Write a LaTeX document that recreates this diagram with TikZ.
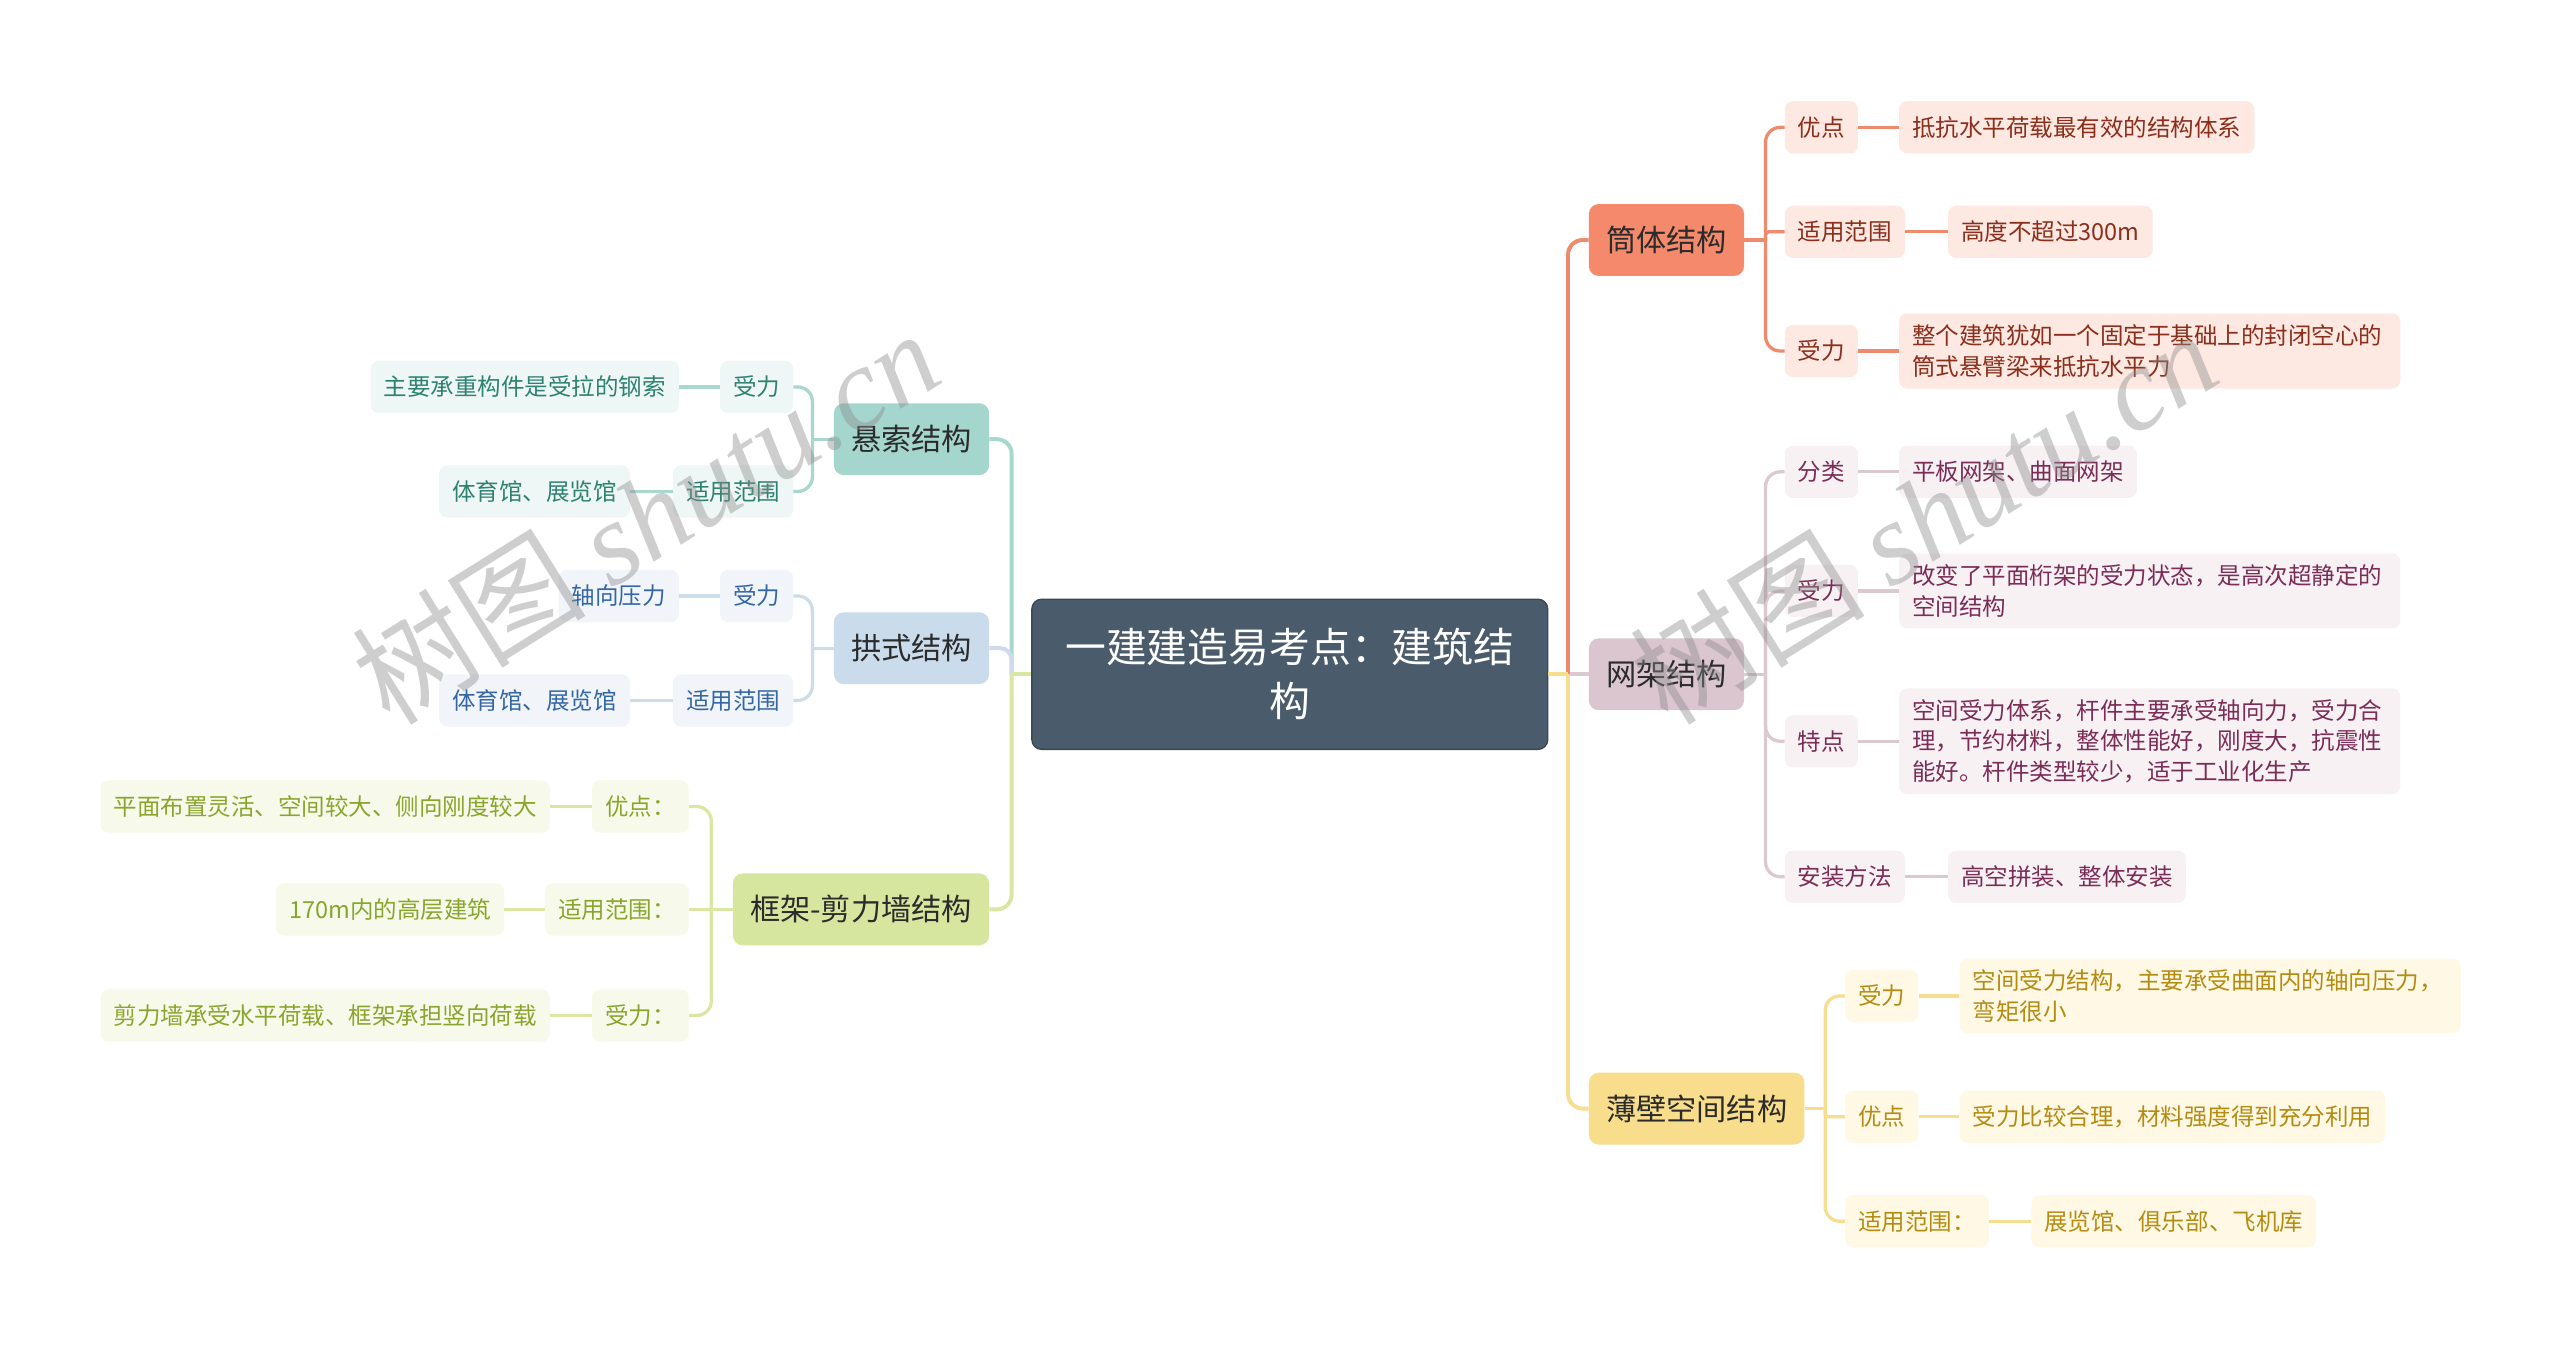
\documentclass[tikz,border=0pt]{standalone}
\usepackage{fontspec}
\setmainfont{Noto Sans CJK SC}
\newfontfamily\wmlatin{Liberation Serif}
\usetikzlibrary{calc}

\definecolor{rootFill}{HTML}{4A5B6B}
\definecolor{rootLine}{HTML}{3A4754}
\definecolor{darkText}{HTML}{2B2B2B}
% orange
\definecolor{oFill}{HTML}{F5896B}\definecolor{oLine}{HTML}{F08A6C}
\definecolor{oLeaf}{HTML}{FDE8E2}\definecolor{oText}{HTML}{8B2F1C}
% mauve
\definecolor{mFill}{HTML}{DBC6D0}\definecolor{mLine}{HTML}{DCC8D1}
\definecolor{mLeaf}{HTML}{F7F1F4}\definecolor{mText}{HTML}{7B2D57}
% yellow
\definecolor{yFill}{HTML}{F8DD8C}\definecolor{yLine}{HTML}{F6DD90}
\definecolor{yLeaf}{HTML}{FEF8E4}\definecolor{yText}{HTML}{B58C12}
% teal
\definecolor{tFill}{HTML}{A5D6CE}\definecolor{tLine}{HTML}{A8D7CF}
\definecolor{tLeaf}{HTML}{EEF7F5}\definecolor{tText}{HTML}{2E8272}
% blue
\definecolor{bFill}{HTML}{CADBEC}\definecolor{bLine}{HTML}{CCDCEB}
\definecolor{bLeaf}{HTML}{F1F5FA}\definecolor{bText}{HTML}{3567A6}
% green
\definecolor{gFill}{HTML}{D7E69F}\definecolor{gLine}{HTML}{D9E7A2}
\definecolor{gLeaf}{HTML}{F7FAEA}\definecolor{gText}{HTML}{8AA52E}

\begin{document}
\begin{tikzpicture}[x=1pt,y=-1pt,
  rootbox/.style={fill=rootFill, draw=rootLine, line width=0.8pt, rounded corners=6pt,
    minimum width=316pt, minimum height=92pt, inner sep=0pt, text width=290pt, align=center,
    text=white, font=\fontsize{25pt}{33pt}\selectfont},
  lvlone/.style={rounded corners=6pt, inner xsep=10.5pt, inner ysep=0pt, minimum height=44pt,
    text=darkText, font=\fontsize{18.5pt}{22pt}\selectfont},
  leafbox/.style={rounded corners=5pt, inner xsep=8pt, inner ysep=0pt, minimum height=32pt,
    font=\fontsize{14.4pt}{18.5pt}\selectfont},
  multibox/.style={leafbox, text width=291pt, align=left, inner ysep=7pt},
  topO/.style={fill=oFill}, lfO/.style={fill=oLeaf, text=oText},
  topM/.style={fill=mFill}, lfM/.style={fill=mLeaf, text=mText},
  topY/.style={fill=yFill}, lfY/.style={fill=yLeaf, text=yText},
  topT/.style={fill=tFill}, lfT/.style={fill=tLeaf, text=tText},
  topB/.style={fill=bFill}, lfB/.style={fill=bLeaf, text=bText},
  topG/.style={fill=gFill}, lfG/.style={fill=gLeaf, text=gText},
  trunkline/.style={line width=2.4pt},
  branchline/.style={line width=2pt},
  rcorn/.style={rounded corners=9pt},
  wmark/.style={text=black!45, opacity=0.42, font=\fontsize{72pt}{74pt}\selectfont, inner sep=0pt}
]
\useasboundingbox (0,0) rectangle (1568,827);
\fill[white] (0,0) rectangle (1568,827);

% ---------- root ----------
\node[rootbox] (root) at (790,413) {一建建造易考点：建筑结\\构};

% ---------- right: 筒体结构 ----------
\node[lvlone, topO, anchor=west] (tong) at (973,147) {筒体结构};
\node[leafbox, lfO, anchor=west] (tong1) at (1093,78) {优点};
\node[leafbox, lfO, anchor=west] (tong1a) at (1163,78) {抵抗水平荷载最有效的结构体系};
\node[leafbox, lfO, anchor=west] (tong2) at (1093,142) {适用范围};
\node[leafbox, lfO, anchor=west] (tong2a) at (1193,142) {高度不超过300m};
\node[leafbox, lfO, anchor=west] (tong3) at (1093,215) {受力};
\node[multibox, lfO, anchor=west] (tong3a) at (1163,215) {整个建筑犹如一个固定于基础上的封闭空心的\\筒式悬臂梁来抵抗水平力};

% ---------- right: 网架结构 ----------
\node[lvlone, topM, anchor=west] (wang) at (973,413) {网架结构};
\node[leafbox, lfM, anchor=west] (wang1) at (1093,289) {分类};
\node[leafbox, lfM, anchor=west] (wang1a) at (1163,289) {平板网架、曲面网架};
\node[leafbox, lfM, anchor=west] (wang2) at (1093,362) {受力};
\node[multibox, lfM, anchor=west] (wang2a) at (1163,362) {改变了平面桁架的受力状态，是高次超静定的\\空间结构};
\node[leafbox, lfM, anchor=west] (wang3) at (1093,454) {特点};
\node[multibox, lfM, anchor=west] (wang3a) at (1163,454) {空间受力体系，杆件主要承受轴向力，受力合\\理，节约材料，整体性能好，刚度大，抗震性\\能好。杆件类型较少，适于工业化生产};
\node[leafbox, lfM, anchor=west] (wang4) at (1093,537) {安装方法};
\node[leafbox, lfM, anchor=west] (wang4a) at (1193,537) {高空拼装、整体安装};

% ---------- right: 薄壁空间结构 ----------
\node[lvlone, topY, anchor=west] (bao) at (973,679) {薄壁空间结构};
\node[leafbox, lfY, anchor=west] (bao1) at (1130,610) {受力};
\node[multibox, lfY, anchor=west] (bao1a) at (1200,610) {空间受力结构，主要承受曲面内的轴向压力，\\弯矩很小};
\node[leafbox, lfY, anchor=west] (bao2) at (1130,684) {优点};
\node[leafbox, lfY, anchor=west] (bao2a) at (1200,684) {受力比较合理，材料强度得到充分利用};
\node[leafbox, lfY, anchor=west] (bao3) at (1130,748) {适用范围：};
\node[leafbox, lfY, anchor=west] (bao3a) at (1244,748) {展览馆、俱乐部、飞机库};

% ---------- left: 悬索结构 ----------
\node[lvlone, topT, anchor=east] (xuan) at (606,269) {悬索结构};
\node[leafbox, lfT, anchor=east] (xuan1) at (486,237) {受力};
\node[leafbox, lfT, anchor=east] (xuan1a) at (416,237) {主要承重构件是受拉的钢索};
\node[leafbox, lfT, anchor=east] (xuan2) at (486,301) {适用范围};
\node[leafbox, lfT, anchor=east] (xuan2a) at (386,301) {体育馆、展览馆};

% ---------- left: 拱式结构 ----------
\node[lvlone, topB, anchor=east] (gong) at (606,397) {拱式结构};
\node[leafbox, lfB, anchor=east] (gong1) at (486,365) {受力};
\node[leafbox, lfB, anchor=east] (gong1a) at (416,365) {轴向压力};
\node[leafbox, lfB, anchor=east] (gong2) at (486,429) {适用范围};
\node[leafbox, lfB, anchor=east] (gong2a) at (386,429) {体育馆、展览馆};

% ---------- left: 框架-剪力墙结构 ----------
\node[lvlone, topG, anchor=east] (kuang) at (606,557) {框架-剪力墙结构};
\node[leafbox, lfG, anchor=east] (kuang1) at (422,494) {优点：};
\node[leafbox, lfG, anchor=east] (kuang1a) at (337,494) {平面布置灵活、空间较大、侧向刚度较大};
\node[leafbox, lfG, anchor=east] (kuang2) at (422,557) {适用范围：};
\node[leafbox, lfG, anchor=east] (kuang2a) at (309,557) {170m内的高层建筑};
\node[leafbox, lfG, anchor=east] (kuang3) at (422,622) {受力：};
\node[leafbox, lfG, anchor=east] (kuang3a) at (337,622) {剪力墙承受水平荷载、框架承担竖向荷载};

% ---------- junction points ----------
\coordinate (jR) at ($(root.east)+(12,0)$);
\coordinate (jL) at ($(root.west)+(-12,0)$);
\coordinate (jT) at ($(tong.east)+(13,0)$);
\coordinate (jW) at ($(wang.east)+(13,0)$);
\coordinate (jB) at ($(bao.east)+(12.5,0)$);
\coordinate (jX) at ($(xuan.west)+(-13,0)$);
\coordinate (jG) at ($(gong.west)+(-13,0)$);
\coordinate (jK) at ($(kuang.west)+(-13,0)$);

% ---------- root connectors (right) ----------
\draw[trunkline, mLine] (root.east) -- (wang.west);
\draw[trunkline, oLine, rcorn] (jR) |- (tong.west);
\draw[trunkline, yLine, rcorn] (jR) |- (bao.west);
\draw[trunkline, yLine] (root.east) -- (jR);
% ---------- root connectors (left) ----------
\draw[trunkline, tLine, rcorn] (jL) |- (xuan.east);
\draw[trunkline, bLine, rounded corners=7pt] (jL) |- (gong.east);
\draw[trunkline, gLine, rcorn] (jL) |- (kuang.east);
\draw[trunkline, gLine] (root.west) -- (jL);

% ---------- 筒体 connectors ----------
\draw[branchline, oLine] (tong.east) -- (jT);
\draw[branchline, oLine, rcorn] (jT) |- (tong1.west);
\draw[branchline, oLine, rounded corners=2pt] (jT) |- (tong2.west);
\draw[branchline, oLine, rcorn] (jT) |- (tong3.west);
\draw[branchline, oLine] (tong1.east) -- (tong1a.west);
\draw[branchline, oLine] (tong2.east) -- (tong2a.west);
\draw[branchline, oLine] (tong3.east) -- (tong3a.west);

% ---------- 网架 connectors ----------
\draw[branchline, mLine] (wang.east) -- (jW);
\draw[branchline, mLine, rcorn] (jW) |- (wang1.west);
\draw[branchline, mLine, rcorn] (jW) |- (wang2.west);
\draw[branchline, mLine, rcorn] (jW) |- (wang3.west);
\draw[branchline, mLine, rcorn] (jW) |- (wang4.west);
\draw[branchline, mLine] (wang1.east) -- (wang1a.west);
\draw[branchline, mLine] (wang2.east) -- (wang2a.west);
\draw[branchline, mLine] (wang3.east) -- (wang3a.west);
\draw[branchline, mLine] (wang4.east) -- (wang4a.west);

% ---------- 薄壁 connectors ----------
\draw[branchline, yLine] (bao.east) -- (jB);
\draw[branchline, yLine, rcorn] (jB) |- (bao1.west);
\draw[branchline, yLine, rounded corners=2pt] (jB) |- (bao2.west);
\draw[branchline, yLine, rcorn] (jB) |- (bao3.west);
\draw[branchline, yLine] (bao1.east) -- (bao1a.west);
\draw[branchline, yLine] (bao2.east) -- (bao2a.west);
\draw[branchline, yLine] (bao3.east) -- (bao3a.west);

% ---------- 悬索 connectors ----------
\draw[branchline, tLine] (xuan.west) -- (jX);
\draw[branchline, tLine, rcorn] (jX) |- (xuan1.east);
\draw[branchline, tLine, rcorn] (jX) |- (xuan2.east);
\draw[branchline, tLine] (xuan1.west) -- (xuan1a.east);
\draw[branchline, tLine] (xuan2.west) -- (xuan2a.east);

% ---------- 拱式 connectors ----------
\draw[branchline, bLine] (gong.west) -- (jG);
\draw[branchline, bLine, rcorn] (jG) |- (gong1.east);
\draw[branchline, bLine, rcorn] (jG) |- (gong2.east);
\draw[branchline, bLine] (gong1.west) -- (gong1a.east);
\draw[branchline, bLine] (gong2.west) -- (gong2a.east);

% ---------- 框架 connectors ----------
\draw[branchline, gLine] (kuang.west) -- (kuang2.east);
\draw[branchline, gLine, rcorn] (jK) |- (kuang1.east);
\draw[branchline, gLine, rcorn] (jK) |- (kuang3.east);
\draw[branchline, gLine] (kuang1.west) -- (kuang1a.east);
\draw[branchline, gLine] (kuang2.west) -- (kuang2a.east);
\draw[branchline, gLine] (kuang3.west) -- (kuang3a.east);

% ---------- watermarks ----------
\node[wmark, rotate=32] (wm1) at (395,316) {树图 {\wmlatin\itshape shutu.cn}};
\node[wmark, rotate=32] (wm2) at (1178,316) {树图 {\wmlatin\itshape shutu.cn}};
\end{tikzpicture}
\end{document}
